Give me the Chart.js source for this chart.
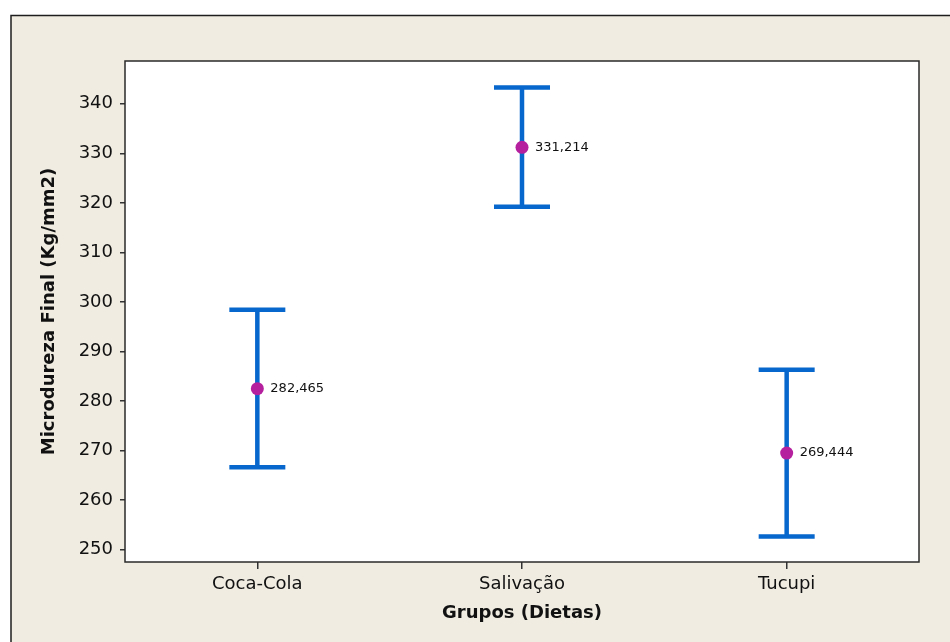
<!DOCTYPE html>
<html>
<head>
<meta charset="utf-8">
<script src="https://cdn.jsdelivr.net/npm/chart.js@4.4.1/dist/chart.umd.min.js"></script>
<style>
  html, body { margin:0; padding:0; background:#fff; }
  #wrap { width:950px; height:642px; position:relative; }
</style>
</head>
<body>
<div id="wrap"><canvas id="c" width="950" height="642"></canvas></div>
<script>
// ====== Data ======
const categories = ['Coca-Cola', 'Salivação', 'Tucupi'];
const means = [282.465, 331.214, 269.444];
const upper = [298.4, 343.3, 286.3];
const lower = [266.6, 319.2, 252.6];
const yTicks = [250, 260, 270, 280, 290, 300, 310, 320, 330, 340];
const meanLabels = ['282,465', '331,214', '269,444'];

// ====== Styles ======
const BEIGE = '#f0ece2';
const BLUE = '#0867cc';
const MAGENTA = '#b5209f';
const FONT = 'DejaVu Sans';

// background, outer frame, plot box
const framePlugin = {
  id: 'frame',
  beforeDraw(chart){
    const ctx = chart.ctx, a = chart.chartArea;
    ctx.save();
    ctx.fillStyle = '#fff'; ctx.fillRect(0, 0, chart.width, chart.height);
    ctx.fillStyle = BEIGE; ctx.fillRect(11, 15.5, chart.width, chart.height);
    ctx.strokeStyle = '#1e1e1e'; ctx.lineWidth = 1.5;
    ctx.beginPath(); ctx.moveTo(11, chart.height); ctx.lineTo(11, 15.5); ctx.lineTo(chart.width, 15.5); ctx.stroke();
    ctx.fillStyle = '#fff'; ctx.fillRect(a.left, a.top, a.right - a.left, a.bottom - a.top);
    ctx.restore();
  },
  afterDraw(chart){
    const ctx = chart.ctx, a = chart.chartArea;
    ctx.save();
    ctx.strokeStyle = '#2a2a2a'; ctx.lineWidth = 1.5;
    ctx.strokeRect(a.left, a.top, a.right - a.left, a.bottom - a.top);
    ctx.restore();
  }
};

// error bars under the mean points
const errorBarPlugin = {
  id: 'errbars',
  beforeDatasetsDraw(chart){
    const ctx = chart.ctx, x = chart.scales.x, y = chart.scales.y;
    ctx.save();
    ctx.strokeStyle = BLUE; ctx.lineWidth = 4.5; ctx.lineCap = 'butt';
    categories.forEach((c, i) => {
      const px = x.getPixelForValue(i);
      const yt = y.getPixelForValue(upper[i]), yb = y.getPixelForValue(lower[i]);
      ctx.beginPath();
      ctx.moveTo(px, yt); ctx.lineTo(px, yb);
      ctx.moveTo(px - 28, yt); ctx.lineTo(px + 28, yt);
      ctx.moveTo(px - 28, yb); ctx.lineTo(px + 28, yb);
      ctx.stroke();
    });
    ctx.restore();
  },
  afterDatasetsDraw(chart){
    const ctx = chart.ctx, x = chart.scales.x, y = chart.scales.y;
    ctx.save();
    ctx.fillStyle = '#111'; ctx.font = '13px "' + FONT + '"';
    ctx.textAlign = 'left'; ctx.textBaseline = 'middle';
    means.forEach((m, i) => {
      ctx.fillText(meanLabels[i], x.getPixelForValue(i) + 13, y.getPixelForValue(m));
    });
    ctx.restore();
  }
};

new Chart(document.getElementById('c'), {
  type: 'line',
  data: {
    labels: categories,
    datasets: [{
      data: means,
      showLine: false,
      pointRadius: 6.5,
      pointHoverRadius: 6.5,
      pointBackgroundColor: MAGENTA,
      pointBorderColor: MAGENTA,
      pointBorderWidth: 0
    }]
  },
  options: {
    responsive: false,
    animation: false,
    events: [],
    layout: { padding: { left: 0, top: 61, right: 31, bottom: 0 } },
    plugins: { legend: { display: false }, tooltip: { enabled: false } },
    scales: {
      x: {
        offset: true,
        afterFit: s => { s.height = 80; },
        grid: { drawOnChartArea: false, offset: false, tickLength: 7, color: '#333', lineWidth: 1.5 },
        border: { display: false },
        ticks: { color: '#111', padding: 5, font: { family: FONT, size: 18 } },
        title: { display: true, text: 'Grupos (Dietas)', color: '#111', padding: { top: 0, bottom: 18 }, font: { family: FONT, size: 18, weight: 'bold' } }
      },
      y: {
        min: 247.45,
        max: 348.65,
        afterFit: s => { s.width = 125; },
        afterBuildTicks: s => { s.ticks = yTicks.map(v => ({ value: v })); },
        grid: { drawOnChartArea: false, tickLength: 5, color: '#333', lineWidth: 1.5 },
        border: { display: false },
        ticks: { color: '#111', padding: 7, font: { family: FONT, size: 18 } },
        title: { display: true, text: 'Microdureza Final (Kg/mm2)', color: '#111', padding: { top: 39, bottom: 0 }, font: { family: FONT, size: 18, weight: 'bold' } }
      }
    }
  },
  plugins: [framePlugin, errorBarPlugin]
});
</script>
</body>
</html>
